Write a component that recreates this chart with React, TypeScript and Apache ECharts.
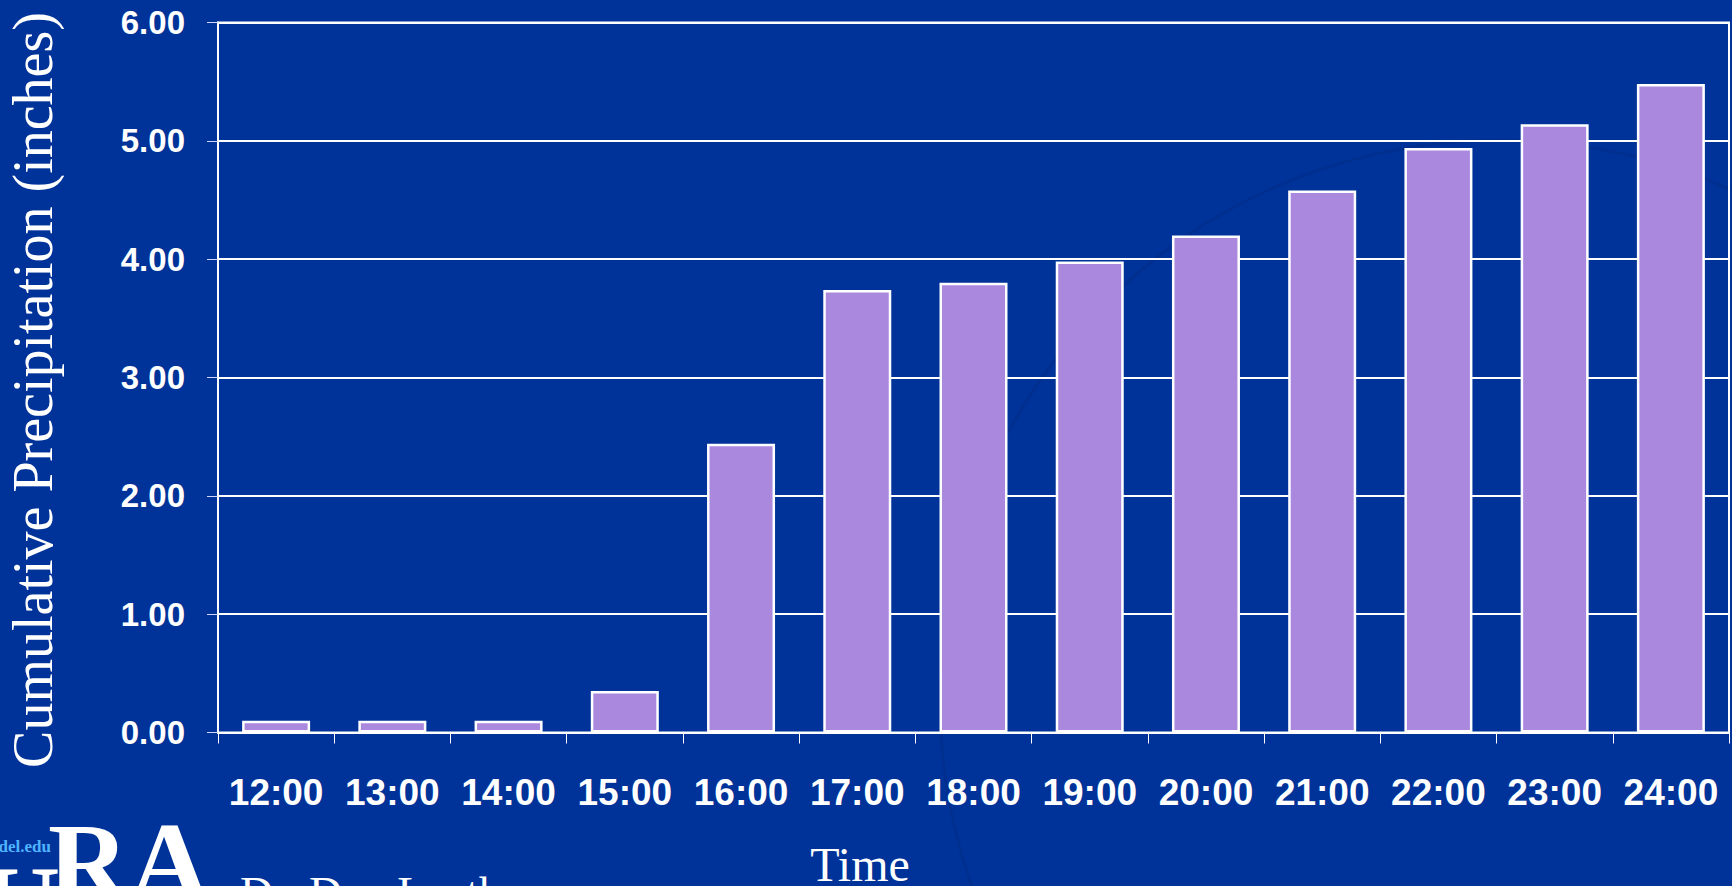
import React, { useEffect, useRef } from "react";
import * as echarts from "echarts";

const categories = ["12:00", "13:00", "14:00", "15:00", "16:00", "17:00", "18:00", "19:00", "20:00", "21:00", "22:00", "23:00", "24:00"];
const precipitation = [0.1, 0.1, 0.1, 0.35, 2.44, 3.74, 3.8, 3.98, 4.2, 4.58, 4.94, 5.14, 5.48];
const yTitle = "Cumulative Precipitation (inches)";
const xTitle = "Time";
const footer = "Dr. Dan Leathers";
const logoLeft = "U";
const logoRight = "RA";
const logoUrl = "del.edu";

export default function App() {
  const ref = useRef<HTMLDivElement>(null);
  useEffect(() => {
    if (!ref.current) return;
    const chart = echarts.init(ref.current, null, { renderer: "svg" });
    chart.setOption({
      animation: false,
      backgroundColor: "#003399",
      grid: {
        left: 218,
        top: 22.5,
        right: 3,
        bottom: 153.5,
        show: true,
        borderColor: "#ffffff",
        borderWidth: 2,
        backgroundColor: "transparent",
      },
      graphic: [
        {
          type: "circle",
          silent: true,
          z: -10,
          shape: { cx: 1500, cy: 700, r: 560 },
          style: { fill: "none", stroke: "rgba(0,35,120,0.25)", lineWidth: 3 },
        },
        {
          type: "text",
          x: 33,
          y: 390,
          rotation: Math.PI / 2,
          style: {
            text: yTitle,
            fill: "#ffffff",
            font: '56px "Liberation Serif", serif',
            textAlign: "center",
            textVerticalAlign: "middle",
          },
        },
        {
          type: "text",
          x: 860,
          y: 864,
          style: {
            text: xTitle,
            fill: "#ffffff",
            font: '48px "Liberation Serif", serif',
            textAlign: "center",
            textVerticalAlign: "middle",
          },
        },
        {
          type: "text",
          x: 240,
          y: 893,
          style: {
            text: footer,
            fill: "#ffffff",
            font: '46px "Liberation Serif", serif',
            textAlign: "left",
            textVerticalAlign: "middle",
          },
        },
        {
          type: "text",
          x: 20,
          y: 905,
          style: {
            text: logoLeft,
            fill: "#ffffff",
            font: 'bold 112px "Liberation Serif", serif',
            textAlign: "center",
            textVerticalAlign: "middle",
          },
        },
        {
          type: "text",
          x: 48,
          y: 862,
          style: {
            text: logoRight,
            fill: "#ffffff",
            font: 'bold 112px "Liberation Serif", serif',
            textAlign: "left",
            textVerticalAlign: "middle",
          },
        },
        {
          type: "text",
          x: 51,
          y: 846,
          z: 6,
          style: {
            text: logoUrl,
            fill: "#4fb4ff",
            font: 'bold 17px "Liberation Serif", serif',
            textAlign: "right",
            textVerticalAlign: "middle",
          },
        },
      ],
      xAxis: {
        type: "category",
        data: categories,
        boundaryGap: true,
        axisLine: { show: true, lineStyle: { color: "#ffffff", width: 2 } },
        axisTick: { show: true, length: 11, interval: 0, lineStyle: { color: "#ffffff", width: 1 } },
        axisLabel: {
          interval: 0,
          color: "#ffffff",
          fontWeight: "bold",
          fontSize: 37,
          fontFamily: '"Liberation Sans", Arial, sans-serif',
          margin: 41,
        },
      },
      yAxis: {
        type: "value",
        min: 0,
        max: 6,
        interval: 1,
        axisLine: { show: true, lineStyle: { color: "#ffffff", width: 2 } },
        axisTick: { show: true, length: 11, lineStyle: { color: "#d0d8ff", width: 1 } },
        splitLine: { show: true, lineStyle: { color: "#ffffff", width: 2 } },
        axisLabel: {
          color: "#ffffff",
          fontWeight: "bold",
          fontSize: 33,
          fontFamily: '"Liberation Sans", Arial, sans-serif',
          margin: 33,
          formatter: (v: number) => v.toFixed(2),
        },
      },
      series: [
        {
          type: "bar",
          data: precipitation,
          barWidth: "58.5%",
          itemStyle: { color: "#aa88de", borderColor: "#ffffff", borderWidth: 2.5 },
        },
      ],
    });
    return () => chart.dispose();
  }, []);
  return <div ref={ref} style={{ position: "fixed", left: 0, top: 0, width: 1732, height: 886 }} />;
}
